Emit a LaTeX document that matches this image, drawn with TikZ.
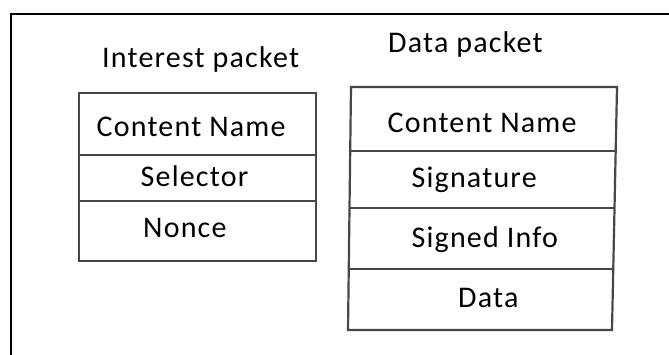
\documentclass[tikz,border=0pt]{standalone}
\usepackage{fontspec}
\setmainfont{Carlito}[LetterSpace=4]
\usetikzlibrary{calc}
\tikzset{
  frame/.style={line width=2.4pt, black},
  pkt/.style={line width=2.2pt, draw=black!72},
  lbl/.style={inner sep=0pt, anchor=base west, font=\fontsize{30}{35}\selectfont}
}
\begin{document}
\begin{tikzpicture}[x=1pt,y=-1pt]
\useasboundingbox (0,0) rectangle (669,355);
% outer frame (top and left edges only)
\coordinate (fbl) at (11,356);
\coordinate (ftl) at (11,14);
\coordinate (ftr) at (670,14);
\draw[frame] (fbl) -- (ftl) -- (ftr);

% Interest packet
\coordinate (i1) at (79,93);
\coordinate (i2) at (316,93);
\coordinate (i3) at (316,261);
\coordinate (i4) at (79,261);
\draw[pkt] (i1) -- (i2) -- (i3) -- (i4) -- cycle;
\draw[pkt] (79,155) -- (316,155);
\draw[pkt] (79,201) -- (316,201);

% Data packet
\coordinate (d1) at (351,87);
\coordinate (d2) at (617,87);
\coordinate (d3) at (612,330);
\coordinate (d4) at (348,330);
\draw[pkt] (d1) -- (d2) -- (d3) -- (d4) -- cycle;
\draw[pkt] ($(d1)!0.263!(d4)$) -- ($(d2)!0.263!(d3)$);
\draw[pkt] ($(d1)!0.498!(d4)$) -- ($(d2)!0.498!(d3)$);
\draw[pkt] ($(d1)!0.749!(d4)$) -- ($(d2)!0.749!(d3)$);

% labels
\node[lbl] (it) at (102,68) {Interest packet};
\node[lbl] (dt) at (388,53) {Data packet};
\node[lbl] (icn) at (96.5,137) {Content Name};
\node[lbl] (isel) at (140.5,187) {Selector};
\node[lbl] (inon) at (143,238) {Nonce};
\node[lbl] (dcn) at (387.5,133) {Content Name};
\node[lbl] (dsig) at (411.5,188) {Signature};
\node[lbl] (dsi) at (411.5,248) {Signed Info};
\node[lbl] (dd) at (458,308) {Data};
\end{tikzpicture}
\end{document}
